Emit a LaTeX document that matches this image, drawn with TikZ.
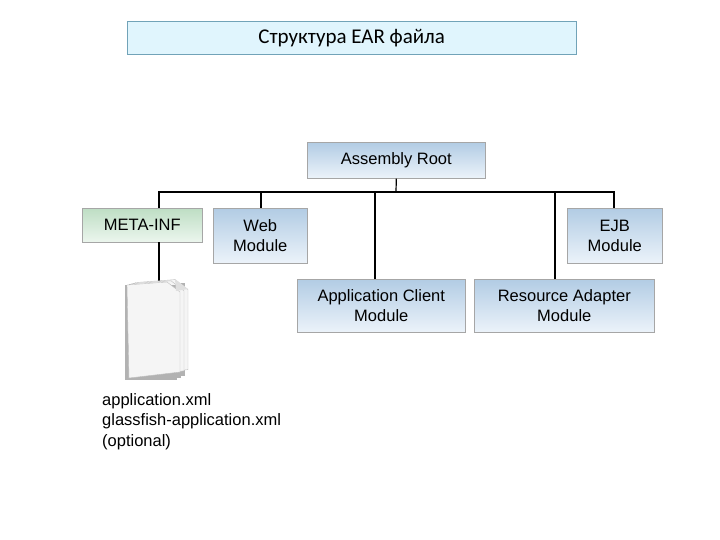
\documentclass[tikz,border=0pt]{standalone}
\usepackage{fontspec}
\setmainfont{Liberation Sans}
\newfontfamily\titlefont{Carlito}
\definecolor{btop}{RGB}{178,204,228}
\definecolor{bbot}{RGB}{236,243,250}
\definecolor{gtop}{RGB}{190,222,196}
\definecolor{gbot}{RGB}{236,246,238}
\begin{document}
\begin{tikzpicture}[x=1pt,y=-1pt,
  box/.style={draw=gray!70,line width=0.6pt,top color=btop,bottom color=bbot,align=center,font=\fontsize{16.5}{20}\selectfont,inner sep=0pt,anchor=north west},
  green/.style={box,top color=gtop,bottom color=gbot},
  ln/.style={line width=1.2pt}]
\useasboundingbox (0,0) rectangle (720,540);
\node[draw=cyan!40!gray,fill=cyan!12,minimum width=449pt,minimum height=33pt,anchor=north west,inner sep=0pt,font=\titlefont\fontsize{21}{24}\selectfont] (title) at (127,21) {Структура EAR файла};
\node[box,minimum width=178pt,minimum height=36pt] (root) at (307,142) {Assembly Root};
\node[green,minimum width=120pt,minimum height=34pt] (meta) at (82,208) {META-INF};
\node[box,minimum width=94pt,minimum height=55pt] (web) at (213,208) {Web\\Module};
\node[box,minimum width=95pt,minimum height=55pt] (ejb) at (567,208) {EJB\\Module};
\node[box,minimum width=168pt,minimum height=53pt] (app) at (297,279) {Application Client\\Module};
\node[box,minimum width=180pt,minimum height=53pt] (ra) at (474,279) {Resource Adapter\\Module};
\coordinate (bus) at (396,192);
\coordinate (docTop) at (159,282);
\draw[ln] (root.south) -- (bus);
\draw[ln] (meta.north -| 159,0) |- (bus) -| (ejb.north -| 614,0);
\draw[ln] (web.north -| 261,0) -- (261,192);
\draw[ln] (app.north -| 375,0) -- (375,192);
\draw[ln] (ra.north -| 555,0) -- (555,192);
\draw[ln] (159,242) -- (docTop);
% document icon
\foreach \d in {8,4,0}{
  \fill[gray!60] (125+\d,285-\d*0.3) rectangle (177+\d,380-\d*0.5);
  \draw[gray!50,fill=gray!8] (127+\d,285-\d*0.3) -- (167+\d,282-\d*0.3) -- (180+\d,292-\d*0.3) -- (180+\d,372-\d*0.3) -- (129+\d,378-\d*0.3) -- cycle;
}
\fill[gray!25] (175,279) -- (188,289) -- (176,291) -- cycle;
\node[anchor=north west,align=left,inner sep=0pt,font=\fontsize{16.5}{20.5}\selectfont] (files) at (102,393) {application.xml\\glassfish-application.xml\\(optional)};
\end{tikzpicture}
\end{document}
